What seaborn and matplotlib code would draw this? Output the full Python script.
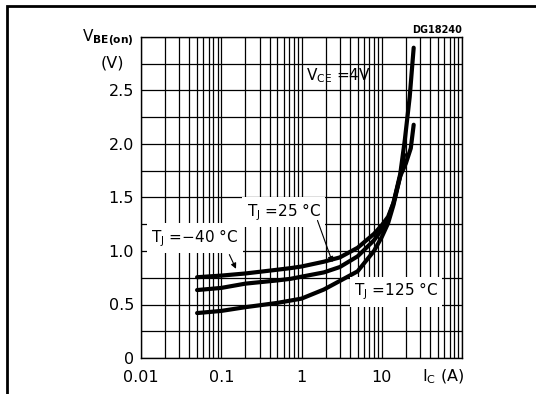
import numpy as np
import pandas as pd
import matplotlib
matplotlib.use("Agg")
import matplotlib.pyplot as plt
import seaborn as sns

# collector current (A) and base-emitter on voltage (V)
ic_m40 = [0.05, 0.1, 0.2, 0.5, 0.73, 1, 1.9, 3, 5, 8, 10, 12, 14, 17, 20, 23, 25]
vbe_m40 = [0.755, 0.77, 0.79, 0.825, 0.84, 0.855, 0.9, 0.94, 1.03, 1.16, 1.24, 1.32, 1.45, 1.7, 1.82, 1.96, 2.18]

ic_25 = [0.05, 0.1, 0.2, 0.5, 0.73, 1, 1.9, 3, 5, 8, 10, 12, 14, 17, 19.4, 22.3, 25]
vbe_25 = [0.635, 0.655, 0.695, 0.725, 0.74, 0.76, 0.8, 0.85, 0.95, 1.1, 1.2, 1.3, 1.45, 1.72, 2.04, 2.44, 2.9]

ic_125 = [0.05, 0.1, 0.2, 0.5, 1, 1.9, 3, 5, 8, 10, 12, 14, 17, 19]
vbe_125 = [0.42, 0.44, 0.475, 0.515, 0.555, 0.64, 0.72, 0.81, 1.0, 1.13, 1.26, 1.43, 1.7, 1.9]

temps = ["-40", "25", "125"]

xticks = [0.01, 0.1, 1, 10]
xtick_labels = ["0.01", "0.1", "1", "10"]
yticks = [0, 0.5, 1.0, 1.5, 2.0, 2.5]
ytick_labels = ["0", "0.5", "1.0", "1.5", "2.0", "2.5"]

df = pd.concat([
    pd.DataFrame({"ic": ic_m40, "vbe": vbe_m40, "tj": temps[0]}),
    pd.DataFrame({"ic": ic_25, "vbe": vbe_25, "tj": temps[1]}),
    pd.DataFrame({"ic": ic_125, "vbe": vbe_125, "tj": temps[2]}),
])

sns.set_style("white", {"text.color": "black", "xtick.color": "black",
                        "ytick.color": "black", "axes.labelcolor": "black"})
plt.rcParams["font.family"] = ["DejaVu Sans"]
plt.rcParams["mathtext.default"] = "regular"

fig = plt.figure(figsize=(5.36, 3.94), dpi=100)
ax = fig.add_axes([141 / 536, 1 - 358 / 394, 321 / 536, 321 / 394])

sns.lineplot(data=df, x="ic", y="vbe", hue="tj", palette={t: "black" for t in temps},
             linewidth=3.0, legend=False, ax=ax, zorder=5)

ax.set_xscale("log")
ax.set_xlim(0.01, 100)
ax.set_ylim(0, 3.0)

# grid: every 1..9 per decade and every 0.25 V
minor_x = [m * 10.0 ** e for e in range(-2, 2) for m in range(2, 10)]
ax.set_xticks(xticks + [100])
ax.set_xticklabels(xtick_labels + [""])
ax.set_xticks(minor_x, minor=True)
ax.set_yticks(yticks + [3.0])
ax.set_yticklabels(ytick_labels + [""])
ax.set_yticks(np.arange(0.25, 3.0, 0.5), minor=True)

ax.grid(True, which="both", color="black", linewidth=0.9)
ax.tick_params(which="both", length=0)
ax.tick_params(axis="x", pad=9, labelsize=11.5)
ax.tick_params(axis="y", pad=5, labelsize=11.5)
for s in ax.spines.values():
    s.set_color("black")
    s.set_linewidth(1.0)
ax.set_xlabel("")
ax.set_ylabel("")

# axis titles
ax.text(-0.024, 0.985, r"V$_{\mathbf{BE(on)}}$", transform=ax.transAxes,
        ha="right", va="baseline", fontsize=11)
ax.text(-0.09, 0.918, "(V)", transform=ax.transAxes, ha="center", va="center", fontsize=11.5)
ax.text(0.94, -0.06, r"I$_{C}$ (A)", transform=ax.transAxes, ha="center", va="center", fontsize=11.5)
ax.text(1.0, 1.022, "DG18240", transform=ax.transAxes, ha="right", va="center",
        fontsize=7, fontweight="bold")

# curve labels
ax.text(2.9, 2.64, r"V$_{CE}$ =4V", ha="center", va="center", fontsize=11)
box = dict(facecolor="white", edgecolor="none", pad=3)
ax.text(0.047, 1.12, r"T$_{J}$ =−40 °C", ha="center", va="center", fontsize=11, bbox=box, zorder=6)
ax.text(0.6, 1.365, r"T$_{J}$ =25 °C", ha="center", va="center", fontsize=11, bbox=box, zorder=6)
ax.text(15.0, 0.62, r"T$_{J}$ =125 °C", ha="center", va="center", fontsize=11, bbox=box, zorder=6)

arrow = dict(arrowstyle="-|>", color="black", lw=0.8, mutation_scale=8)
ax.annotate("", xy=(0.158, 0.81), xytext=(0.122, 0.99), arrowprops=arrow, zorder=7)
ax.annotate("", xy=(2.5, 0.87), xytext=(1.54, 1.31), arrowprops=arrow, zorder=7)

# outer frame of the datasheet figure
fig.patches.append(plt.Rectangle((7 / 536, -0.1), 1.2, 1 - 6 / 394 + 0.1,
                                 transform=fig.transFigure, fill=False,
                                 edgecolor="black", linewidth=2))

fig.savefig("out.png", dpi=100)
